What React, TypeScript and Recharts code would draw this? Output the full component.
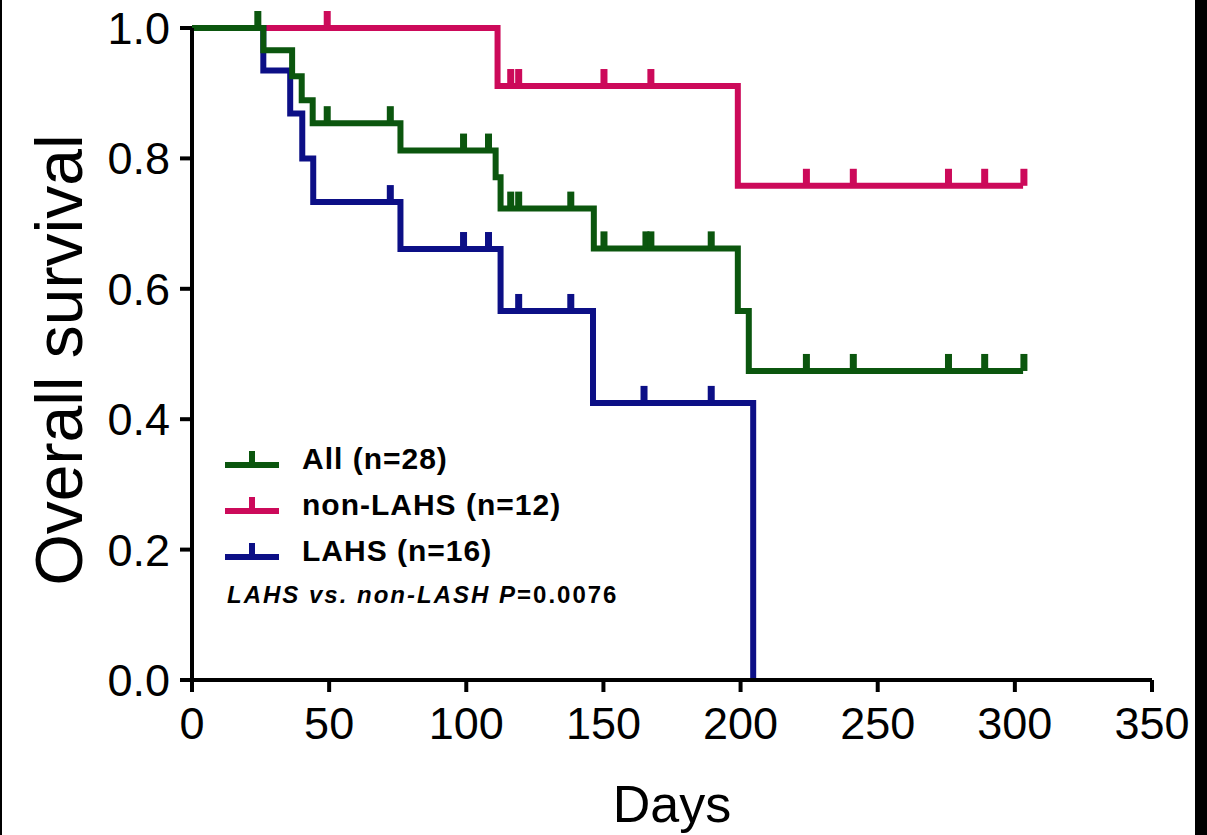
import React from 'react';
import { ComposedChart, Line, Scatter, XAxis, YAxis, Label } from 'recharts';

// step points (day, survival)
const allDays = [0, 26, 36.5, 40, 44, 76, 110.7, 112.5, 146.5, 199, 203, 303];
const allSurv = [1, 0.966, 0.926, 0.889, 0.854, 0.812, 0.771, 0.723, 0.662, 0.566, 0.474, 0.474];
const nonDays = [0, 111.4, 199, 303];
const nonSurv = [1, 0.911, 0.758, 0.758];
const lahsDays = [0, 26, 35.8, 40.2, 44.2, 76, 112.5, 146.2, 204.6];
const lahsSurv = [1, 0.935, 0.869, 0.8, 0.733, 0.661, 0.566, 0.425, 0];

// censored observations
const allCensDays = [24, 49.3, 72.3, 99, 108.1, 116.2, 119.1, 138.1, 150.2, 165.5, 167.3, 189.3, 224, 241.1, 275.8, 289, 303.3];
const allCensSurv = [1, 0.854, 0.854, 0.812, 0.812, 0.723, 0.723, 0.723, 0.662, 0.662, 0.662, 0.662, 0.474, 0.474, 0.474, 0.474, 0.474];
const nonCensDays = [49.3, 116.2, 119.1, 150.2, 167.3, 224, 241.1, 275.8, 289, 303.3];
const nonCensSurv = [1, 0.911, 0.911, 0.911, 0.911, 0.758, 0.758, 0.758, 0.758, 0.758];
const lahsCensDays = [72.3, 99, 108.1, 119.1, 138.1, 164.8, 189.3];
const lahsCensSurv = [0.733, 0.661, 0.661, 0.566, 0.566, 0.425, 0.425];

const xTicks = [0, 50, 100, 150, 200, 250, 300, 350];
const yTicks = [0, 0.2, 0.4, 0.6, 0.8, 1.0];

const GREEN = '#0b560e';
const PINK = '#cc0a5a';
const BLUE = '#0c0f86';
const FONT = '"Liberation Sans", Arial, Helvetica, sans-serif';

const series = [
  { name: 'All (n=28)', color: GREEN },
  { name: 'non-LAHS (n=12)', color: PINK },
  { name: 'LAHS (n=16)', color: BLUE },
];

const toPts = (d: number[], s: number[]) => d.map((day, i) => ({ day, surv: s[i] }));

const censorShape = (color: string) => (props: any) => (
  <rect x={props.cx - 3.5} y={props.cy - 17} width={7} height={17} fill={color} />
);

const LegendBox = () => (
  <div style={{ position: 'absolute', left: 225, top: 436, fontFamily: FONT, color: '#000' }}>
    {series.map((s) => (
      <div key={s.name} style={{ display: 'flex', alignItems: 'center', height: 46 }}>
        <svg width={56} height={30} style={{ marginRight: 21 }}>
          <rect x={0} y={18} width={54} height={6} fill={s.color} />
          <rect x={24} y={7} width={6} height={13} fill={s.color} />
        </svg>
        <span style={{ fontSize: 30, fontWeight: 'bold', letterSpacing: 1, whiteSpace: 'nowrap' }}>{s.name}</span>
      </div>
    ))}
    <div style={{ fontSize: 24, fontWeight: 'bold', letterSpacing: 2, marginTop: 7, marginLeft: 2, whiteSpace: 'nowrap' }}>
      <i>LAHS vs. non-LASH P</i>=0.0076
    </div>
  </div>
);

export default function App() {
  return (
    <div style={{ position: 'absolute', left: 0, top: 0, width: 1207, height: 835, background: '#fff' }}>
      <ComposedChart width={1207} height={835} margin={{ top: 28, right: 55, bottom: 0, left: 0 }}>
        <XAxis
          type="number"
          dataKey="day"
          domain={[0, 350]}
          ticks={xTicks}
          height={155}
          stroke="#000"
          strokeWidth={4}
          tickSize={12}
          tickMargin={15}
          tick={{ fill: '#000', fontSize: 45, fontFamily: FONT }}
        >
          <Label value="Days" position="insideBottom" offset={13} style={{ fill: '#000', fontSize: 52, fontFamily: FONT }} />
        </XAxis>
        <YAxis
          type="number"
          domain={[0, 1]}
          ticks={yTicks}
          width={192}
          stroke="#000"
          strokeWidth={4}
          tickSize={12}
          tickMargin={10}
          tickFormatter={(v: number) => v.toFixed(1)}
          tick={{ fill: '#000', fontSize: 45, fontFamily: FONT }}
        >
          <Label
            content={({ viewBox }: any) => {
              const x = viewBox.x + 82;
              const y = viewBox.y + viewBox.height / 2 + 6;
              return (
                <text x={x} y={y} transform={`rotate(-90 ${x} ${y})`} textAnchor="middle" fontSize={66} fontFamily={FONT} fill="#000">
                  Overall survival
                </text>
              );
            }}
          />
        </YAxis>
        <Line data={toPts(nonDays, nonSurv)} dataKey="surv" type="stepAfter" stroke={PINK} strokeWidth={6} dot={false} activeDot={false} isAnimationActive={false} strokeLinejoin="miter" />
        <Scatter data={toPts(nonCensDays, nonCensSurv)} dataKey="surv" shape={censorShape(PINK)} isAnimationActive={false} />
        <Line data={toPts(lahsDays, lahsSurv)} dataKey="surv" type="stepAfter" stroke={BLUE} strokeWidth={6} dot={false} activeDot={false} isAnimationActive={false} strokeLinejoin="miter" />
        <Scatter data={toPts(lahsCensDays, lahsCensSurv)} dataKey="surv" shape={censorShape(BLUE)} isAnimationActive={false} />
        <Line data={toPts(allDays, allSurv)} dataKey="surv" type="stepAfter" stroke={GREEN} strokeWidth={6} dot={false} activeDot={false} isAnimationActive={false} strokeLinejoin="miter" />
        <Scatter data={toPts(allCensDays, allCensSurv)} dataKey="surv" shape={censorShape(GREEN)} isAnimationActive={false} />
      </ComposedChart>
      <LegendBox />
      <div style={{ position: 'absolute', left: 0, top: 0, width: 2, height: 835, background: '#000' }} />
      <div style={{ position: 'absolute', left: 1195, top: 0, width: 12, height: 835, background: '#000' }} />
    </div>
  );
}
